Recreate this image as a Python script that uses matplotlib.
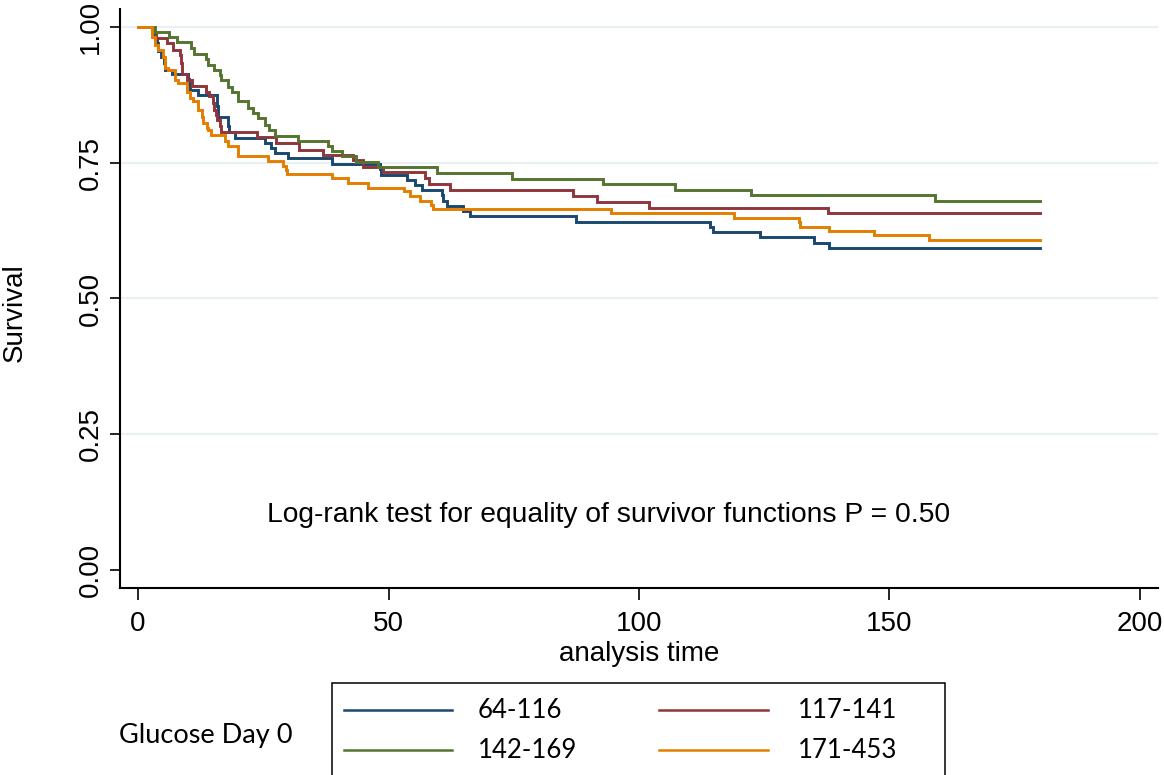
import matplotlib
matplotlib.use("Agg")
import matplotlib.pyplot as plt
from matplotlib.lines import Line2D
from matplotlib.patches import Rectangle

# ---------------- data ----------------
groups = ["64-116", "117-141", "142-169", "171-453"]
colors = ["#1a476f", "#90353b", "#55752f", "#e37e00"]

t_64_116 = [0, 3.0, 3.3, 3.7, 4.0, 4.6, 5.1, 5.4, 6.7, 10.0, 10.1, 10.3, 12.0,
            15.7, 15.8, 15.9, 16.0, 18.0, 18.1, 19.4, 25.3, 26.6, 27.3, 29.9,
            38.7, 48.2, 48.4, 53.6, 55.3, 56.6, 60.6, 60.8, 61.6, 64.9, 66.3,
            87.4, 114.2, 114.8, 124.2, 134.9, 137.9, 180]
s_64_116 = [1.0, 0.99, 0.98, 0.97, 0.955, 0.945, 0.933, 0.921, 0.914, 0.905,
            0.894, 0.884, 0.875, 0.864, 0.854, 0.845, 0.835, 0.817, 0.807,
            0.796, 0.786, 0.777, 0.768, 0.759, 0.748, 0.738, 0.728, 0.718,
            0.709, 0.700, 0.690, 0.680, 0.670, 0.661, 0.651, 0.641, 0.632,
            0.622, 0.613, 0.603, 0.593, 0.593]

t_117_141 = [0, 3.1, 3.6, 5.85, 7.05, 8.4, 8.6, 8.8, 9.7, 10.7, 13.6, 14.2,
             15.0, 15.2, 15.6, 15.8, 16.4, 16.5, 23.7, 27.5, 32.2, 36.9, 42.9,
             45.0, 48.8, 57.3, 58.0, 62.3, 86.8, 91.7, 101.9, 137.8, 180]
s_117_141 = [1.0, 0.99, 0.979, 0.970, 0.958, 0.949, 0.933, 0.914, 0.902,
             0.892, 0.881, 0.872, 0.860, 0.847, 0.838, 0.829, 0.818, 0.807,
             0.798, 0.786, 0.773, 0.764, 0.755, 0.742, 0.732, 0.721, 0.711,
             0.699, 0.689, 0.678, 0.667, 0.657, 0.657]

t_142_169 = [0, 3.4, 6.2, 7.85, 10.5, 11.2, 13.6, 13.9, 15.2, 16.3, 16.5,
             18.0, 18.7, 19.9, 20.0, 22.0, 23.0, 24.0, 25.3, 26.1, 27.3, 32.0,
             38.0, 38.7, 40.7, 43.6, 48.0, 59.7, 74.6, 92.9, 107.1, 122.4,
             159.1, 180]
s_142_169 = [1.0, 0.991, 0.982, 0.972, 0.962, 0.951, 0.941, 0.930, 0.921,
             0.911, 0.902, 0.890, 0.881, 0.872, 0.863, 0.851, 0.842, 0.832,
             0.820, 0.810, 0.800, 0.790, 0.780, 0.771, 0.762, 0.752, 0.743,
             0.731, 0.720, 0.710, 0.700, 0.691, 0.680, 0.680]

t_171_453 = [0, 2.7, 3.4, 4.05, 5.05, 5.3, 5.4, 6.05, 7.4, 8.05, 9.7, 10.4,
             11.0, 12.0, 12.7, 13.0, 13.7, 14.0, 14.5, 17.4, 18.0, 19.9, 20.0,
             26.0, 29.0, 29.6, 29.7, 38.7, 42.0, 46.0, 53.1, 54.3, 56.2, 58.4,
             58.9, 94.4, 119.0, 131.9, 132.1, 137.9, 146.9, 157.9, 180]
s_171_453 = [1.0, 0.982, 0.967, 0.958, 0.945, 0.933, 0.924, 0.921, 0.902,
             0.896, 0.881, 0.869, 0.863, 0.847, 0.835, 0.823, 0.813, 0.810,
             0.801, 0.790, 0.780, 0.771, 0.762, 0.753, 0.744, 0.737, 0.729,
             0.721, 0.713, 0.704, 0.697, 0.688, 0.680, 0.672, 0.664, 0.657,
             0.648, 0.640, 0.632, 0.624, 0.616, 0.608, 0.608]

series_t = [t_64_116, t_117_141, t_142_169, t_171_453]
series_s = [s_64_116, s_117_141, s_142_169, s_171_453]

x_ticks = [0, 50, 100, 150, 200]
y_ticks = [0.0, 0.25, 0.50, 0.75, 1.00]
y_tick_labels = ["0.00", "0.25", "0.50", "0.75", "1.00"]

annotation = "Log-rank test for equality of survivor functions P = 0.50"
legend_title = "Glucose Day 0"

# ---------------- figure ----------------
W, H = 1164, 775
fig = plt.figure(figsize=(W / 100, H / 100), dpi=100)
fig.patch.set_facecolor("white")

def fx(px):
    return px / W

def fy(py):
    return 1 - py / H

ax = fig.add_axes([fx(120), fy(588), fx(1158) - fx(120), fy(9) - fy(588)])

main_font = "Liberation Sans"
leg_font = "Lato"

lines = []
for t, s, c in zip(series_t, series_s, colors):
    ln, = ax.step(t, s, where="post", color=c, lw=2.1, solid_joinstyle="miter")
    lines.append(ln)

ax.set_xlim(-3.6, 203.6)
ax.set_ylim(-0.033, 1.033)

for sp in ["top", "right"]:
    ax.spines[sp].set_visible(False)
for sp in ["left", "bottom"]:
    ax.spines[sp].set_linewidth(1.5)
    ax.spines[sp].set_color("black")

ax.set_xticks(x_ticks)
ax.set_xticklabels([str(v) for v in x_ticks], fontfamily=main_font, fontsize=20)
ax.set_yticks(y_ticks)
ax.set_yticklabels(y_tick_labels, rotation=90, va="center",
                   fontfamily=main_font, fontsize=20)
ax.tick_params(axis="x", length=8.5, width=1.2, pad=8, color="black")
ax.tick_params(axis="y", length=7.5, width=1.2, pad=4, color="black")

ax.yaxis.grid(True, color="#e8f0f2", lw=1.6)
ax.set_axisbelow(True)
gl = ax.yaxis.get_gridlines()
gl[0].set_visible(False)

ax.set_xlabel("analysis time", fontfamily=main_font, fontsize=20, va="top")
ax.xaxis.set_label_coords(0.5, -0.091)
ax.set_ylabel("Survival", fontfamily=main_font, fontsize=20, va="center")
ax.yaxis.set_label_coords(-0.101, 0.475)

ax.text(94, 0.101, annotation, ha="center", va="center",
        fontfamily=main_font, fontsize=20.3)

# ---------------- legend (manual, Stata style) ----------------
fig.patches.append(Rectangle((fx(332), fy(779)), fx(945) - fx(332), fy(683) - fy(779),
                             transform=fig.transFigure, fill=False,
                             edgecolor="black", lw=1.1, clip_on=False))
fig.text(fx(119), fy(735), legend_title, ha="left", va="center",
         fontfamily=leg_font, fontsize=19.5)

col_line = [(344, 452), (659, 768)]
col_text = [478, 798]
row_y = [710, 750]
for i, (lab, ln) in enumerate(zip(groups, lines)):
    r, c = divmod(i, 2)
    x0, x1 = col_line[c]
    fig.lines.append(Line2D([fx(x0), fx(x1)], [fy(row_y[r]), fy(row_y[r])],
                            transform=fig.transFigure, color=ln.get_color(), lw=1.8))
    fig.text(fx(col_text[c]), fy(row_y[r] + 1), lab, ha="left", va="center",
             fontfamily=leg_font, fontsize=18.5)

fig.savefig("out.png", dpi=100)
